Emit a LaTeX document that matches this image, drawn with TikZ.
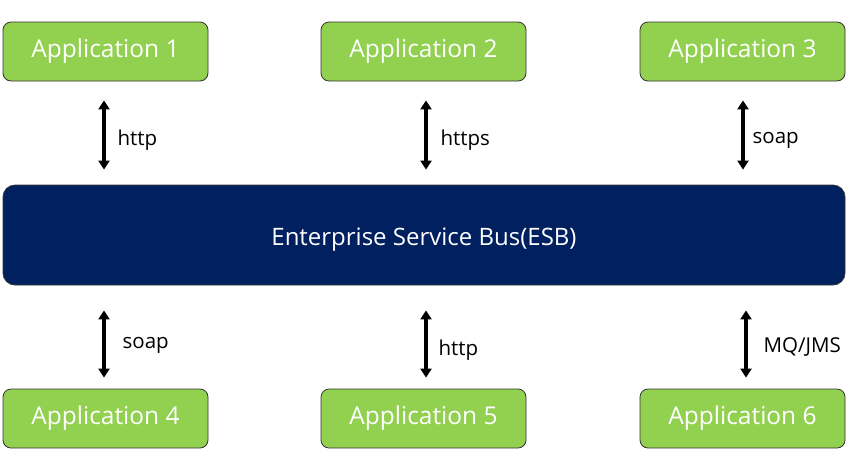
\documentclass[tikz,border=0pt]{standalone}
\usepackage{fontspec}
\setmainfont{Open Sans}
\usetikzlibrary{arrows.meta,positioning,calc}
\definecolor{appgreen}{HTML}{92D050}
\definecolor{busnavy}{HTML}{002060}
\tikzset{
  appbox/.style = {rounded corners=8pt, draw=black!80, line width=0.8pt, fill=appgreen,
                   minimum width=205pt, minimum height=59pt, text=white,
                   font=\fontsize{24.5}{28}\selectfont, inner sep=0pt},
  busbox/.style = {rounded corners=12pt, draw=black!80, line width=0.8pt, fill=busnavy,
                   minimum width=842pt, minimum height=100pt, text=white,
                   text height=21pt, text depth=0pt,
                   font=\fontsize{24}{28}\selectfont, inner sep=0pt},
  ar/.style     = {{Triangle[length=9pt,width=11pt]}-{Triangle[length=9pt,width=11pt]}, line width=3.2pt},
  lbl/.style    = {font=\fontsize{20.5}{24}\selectfont, text=black, inner sep=0pt, anchor=base west},
}
\begin{document}
\begin{tikzpicture}[x=1pt,y=-1pt]
  \useasboundingbox (0,0) rectangle (856,467);
  % bus in the middle
  \node[busbox] (esb) at (424,235) {Enterprise Service Bus(ESB)};
  % applications above
  \node[appbox] (app1) at (105.5,51.5) {Application 1};
  \node[appbox] (app2) at (423.5,51.5) {Application 2};
  \node[appbox] (app3) at (742.5,51.5) {Application 3};
  % applications below
  \node[appbox] (app4) at (105.5,418.5) {Application 4};
  \node[appbox] (app5) at (423.5,418.5) {Application 5};
  \node[appbox] (app6) at (742.5,418.5) {Application 6};
  % protocols, top row
  \draw[ar, shorten <=19pt, shorten >=15pt] ([xshift=-1.5pt]app1.south) -- ([xshift=-1.5pt]app1.south |- esb.north)
    node[lbl, midway, xshift=12pt, yshift=-12pt] {http};
  \draw[ar, shorten <=19pt, shorten >=15pt] ([xshift=2.5pt]app2.south) -- ([xshift=2.5pt]app2.south |- esb.north)
    node[lbl, midway, xshift=13pt, yshift=-12pt] {https};
  \draw[ar, shorten <=19pt, shorten >=15pt] ([xshift=0.5pt]app3.south) -- ([xshift=0.5pt]app3.south |- esb.north)
    node[lbl, midway, xshift=8pt, yshift=-10.3pt] {soap};
  % protocols, bottom row
  \draw[ar, shorten <=25pt, shorten >=11pt] ([xshift=-1.5pt]app4.north |- esb.south) -- ([xshift=-1.5pt]app4.north)
    node[lbl, midway, xshift=17pt, yshift=-11.7pt] {soap};
  \draw[ar, shorten <=25pt, shorten >=11pt] ([xshift=2.5pt]app5.north |- esb.south) -- ([xshift=2.5pt]app5.north)
    node[lbl, midway, xshift=11pt, yshift=-18pt] {http};
  \draw[ar, shorten <=25pt, shorten >=11pt] ([xshift=3.5pt]app6.north |- esb.south) -- ([xshift=3.5pt]app6.north)
    node[lbl, midway, xshift=16pt, yshift=-15.7pt] {MQ/JMS};
\end{tikzpicture}
\end{document}
